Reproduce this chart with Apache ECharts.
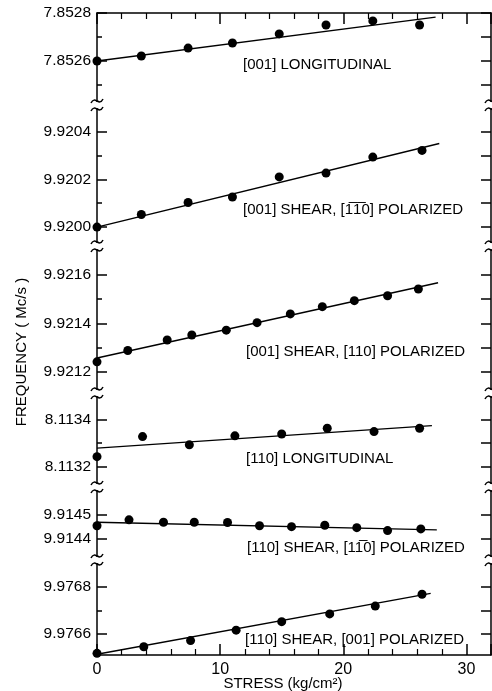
<!DOCTYPE html>
<html>
<head>
<meta charset="utf-8">
<script src="https://cdn.jsdelivr.net/npm/echarts@6/dist/echarts.min.js"></script>
<style>
  html, body { margin: 0; padding: 0; background: #fff; }
  #chart { width: 492px; height: 691px; }
</style>
</head>
<body>
<div id="chart"></div>
<script>
// stress (kg/cm^2) vs frequency (Mc/s), panels from top to bottom
const stress1 = [0, 3.6, 7.4, 11.0, 14.8, 18.6, 22.4, 26.2];
const freq1 = [7.8526, 7.852621, 7.852654, 7.852675, 7.852713, 7.85275, 7.852767, 7.85275];
const fit1 = [[0, 7.8526], [27.5, 7.852783]];

const stress2 = [0, 3.6, 7.4, 11.0, 14.8, 18.6, 22.4, 26.4];
const freq2 = [9.92, 9.920053, 9.920103, 9.920126, 9.92021, 9.920226, 9.920293, 9.920321];
const fit2 = [[0, 9.92], [27.8, 9.92035]];

const stress3 = [0, 2.5, 5.7, 7.7, 10.5, 13.0, 15.7, 18.3, 20.9, 23.6, 26.1];
const freq3 = [9.921241, 9.921288, 9.921331, 9.921352, 9.921372, 9.921403, 9.921439, 9.921469, 9.921494, 9.921514, 9.921542];
const fit3 = [[0, 9.921257], [27.7, 9.921568]];

const stress4 = [0, 3.7, 7.5, 11.2, 15.0, 18.7, 22.5, 26.2];
const freq4 = [8.113242, 8.113327, 8.113292, 8.11333, 8.113338, 8.113362, 8.113348, 8.113362];
const fit4 = [[0, 8.113278], [27.2, 8.113373]];

const stress5 = [0, 2.6, 5.4, 7.9, 10.6, 13.2, 15.8, 18.5, 21.1, 23.6, 26.3];
const freq5 = [9.914454, 9.914478, 9.914468, 9.914468, 9.914467, 9.914454, 9.91445, 9.914456, 9.914446, 9.914434, 9.914441];
const fit5 = [[0, 9.914468], [27.6, 9.914437]];

const stress6 = [0, 3.8, 7.6, 11.3, 15.0, 18.9, 22.6, 26.4];
const freq6 = [9.976518, 9.976546, 9.976572, 9.976616, 9.976652, 9.976685, 9.976718, 9.976768];
const fit6 = [[0, 9.976514], [27.1, 9.976772]];

// axis ranges and tick labels
const xTicks = [0, 10, 20, 30];
const yMin = [7.852417, 9.919921, 9.921112, 8.113114, 9.914314, 9.976511];
const yMax = [7.8528, 9.920511, 9.92172, 8.113511, 9.914612, 9.976913];
const yMajor = [[7.8528, 7.8526], [9.9204, 9.9202, 9.92], [9.9216, 9.9214, 9.9212], [8.1134, 8.1132], [9.9145, 9.9144], [9.9768, 9.9766]];
const yMinor = [[7.8527, 7.8525], [9.9203, 9.9201], [9.9215, 9.9213], [8.1133], [], [9.9767]];

const labels = [
  "[001] LONGITUDINAL",
  "[001] SHEAR, [1\u03051\u03050] POLARIZED",
  "[001] SHEAR, [110] POLARIZED",
  "[110] LONGITUDINAL",
  "[110] SHEAR, [11\u03050] POLARIZED",
  "[110] SHEAR, [001] POLARIZED"
];

const xs = [stress1, stress2, stress3, stress4, stress5, stress6];
const ys = [freq1, freq2, freq3, freq4, freq5, freq6];
const fits = [fit1, fit2, fit3, fit4, fit5, fit6];

// layout
const gridTop = [13, 105, 246, 393, 487, 560];
const gridBot = [105, 246, 393, 487, 560, 655];
const labelPos = [[243, 65], [243, 210], [246, 352], [246, 459], [247, 548], [245, 640]];
const plotLeft = 97, plotRight = 491;
const font = "Liberation Sans";

let myChart = echarts.init(document.getElementById("chart"));

let grid = [], xAxis = [], yAxis = [], series = [], graphic = [];
let black = { color: "#000", width: 1.5 };

for (let i = 0; i < 6; i++) {
  grid.push({
    left: plotLeft,
    right: 492 - plotRight,
    top: gridTop[i],
    height: gridBot[i] - gridTop[i],
    containLabel: false
  });
  let edge = i === 0 || i === 5;
  xAxis.push({
    gridIndex: i,
    type: "value",
    min: 0,
    max: 32,
    interval: 10,
    show: edge,
    position: i === 0 ? "top" : "bottom",
    axisLine: { onZero: false, lineStyle: black },
    axisTick: { inside: true, length: 11, lineStyle: black },
    minorTick: { show: true, splitNumber: 5, length: 6, lineStyle: { color: "#000", width: 1.2 } },
    splitLine: { show: false },
    axisLabel: {
      show: i === 5,
      customValues: xTicks,
      color: "#000",
      fontFamily: font,
      fontSize: 16,
      margin: 7
    }
  });
  // left axis: major ticks and labels
  yAxis.push({
    gridIndex: i,
    type: "value",
    position: "left",
    min: yMin[i],
    max: yMax[i],
    axisLine: { show: true, lineStyle: black },
    axisTick: { show: true, inside: true, length: 10, customValues: yMajor[i], lineStyle: black },
    axisLabel: {
      customValues: yMajor[i],
      color: "#000",
      fontFamily: font,
      fontSize: 15.5,
      margin: 6,
      formatter: (v) => v.toFixed(4)
    },
    splitLine: { show: false }
  });
  // left axis: minor ticks
  yAxis.push({
    gridIndex: i,
    type: "value",
    position: "left",
    min: yMin[i],
    max: yMax[i],
    axisLine: { show: false },
    axisTick: { show: yMinor[i].length > 0, inside: true, length: 5, customValues: yMinor[i].length ? yMinor[i] : [yMin[i]], lineStyle: black },
    axisLabel: { show: false },
    splitLine: { show: false }
  });
  // right frame with ticks
  yAxis.push({
    gridIndex: i,
    type: "value",
    position: "right",
    min: yMin[i],
    max: yMax[i],
    axisLine: { show: true, lineStyle: black },
    axisTick: { show: true, inside: true, length: 10, customValues: yMajor[i].concat(yMinor[i]), lineStyle: black },
    axisLabel: { show: false },
    splitLine: { show: false }
  });

  series.push({
    type: "line",
    xAxisIndex: i,
    yAxisIndex: 3 * i,
    data: fits[i],
    showSymbol: false,
    lineStyle: { color: "#000", width: 1.4 },
    silent: true
  });
  series.push({
    type: "scatter",
    xAxisIndex: i,
    yAxisIndex: 3 * i,
    data: xs[i].map((x, k) => [x, ys[i][k]]),
    symbolSize: 9,
    itemStyle: { color: "#000", opacity: 1 },
    silent: true
  });

  graphic.push({
    type: "text",
    x: labelPos[i][0],
    y: labelPos[i][1],
    style: {
      text: labels[i],
      fill: "#000",
      font: "15px " + font,
      verticalAlign: "middle"
    }
  });
}

// axis break marks between panels
gridTop.slice(1).forEach((by) => {
  [plotLeft, plotRight].forEach((ax) => {
    graphic.push({
      type: "rect",
      shape: { x: ax - 3, y: by - 3, width: 6, height: 6 },
      style: { fill: "#fff" },
      z: 100
    });
    [-4, 4].forEach((dy) => {
      graphic.push({
        type: "bezierCurve",
        shape: {
          x1: ax - 6, y1: by + dy + 2,
          cpx1: ax - 2, cpy1: by + dy - 6,
          cpx2: ax + 2, cpy2: by + dy + 6,
          x2: ax + 6, y2: by + dy - 2
        },
        style: { stroke: "#000", lineWidth: 1.5, fill: null },
        z: 101
      });
    });
  });
});

graphic.push({
  type: "text",
  x: 22,
  y: 352,
  rotation: Math.PI / 2,
  style: {
    text: "FREQUENCY ( Mc/s )",
    fill: "#000",
    font: "15px " + font,
    align: "center",
    verticalAlign: "middle"
  }
});
graphic.push({
  type: "text",
  x: 283,
  y: 684,
  style: {
    text: "STRESS (kg/cm\u00b2)",
    fill: "#000",
    font: "15px " + font,
    align: "center",
    verticalAlign: "middle"
  }
});

myChart.setOption({
  animation: false,
  backgroundColor: "#fff",
  grid: grid,
  xAxis: xAxis,
  yAxis: yAxis,
  series: series,
  graphic: graphic
});
</script>
</body>
</html>
